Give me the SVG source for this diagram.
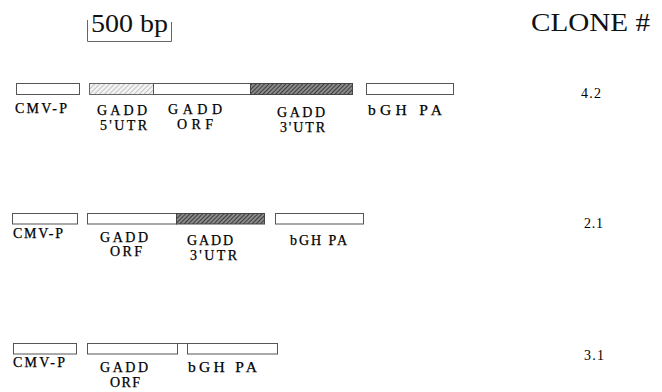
<svg xmlns="http://www.w3.org/2000/svg" width="662" height="392" viewBox="0 0 662 392">
  <defs>
    <pattern id="hatchLight" patternUnits="userSpaceOnUse" width="3.5" height="3.5" patternTransform="rotate(45)">
      <rect width="3.5" height="3.5" fill="#f2f2f2"/>
      <line x1="0" y1="0" x2="0" y2="3.5" stroke="#8a8a8a" stroke-width="0.9"/>
    </pattern>
    <pattern id="hatchDark" patternUnits="userSpaceOnUse" width="3" height="3" patternTransform="rotate(45)">
      <rect width="3" height="3" fill="#8a8a8a"/>
      <line x1="0" y1="0" x2="0" y2="3" stroke="#222" stroke-width="1.5"/>
    </pattern>
  </defs>
  <style>
    .box { fill: #fff; stroke: #555; stroke-width: 1; }
    .light { fill: url(#hatchLight); stroke: #666; stroke-width: 1; }
    .dark { fill: url(#hatchDark); stroke: #444; stroke-width: 1; }
    .lbl { font-family: "Liberation Serif", serif; font-size: 14px; fill: #000; stroke: #000; stroke-width: 0.25; }
    .wide { font-size: 15.5px; }
    .num { font-family: "Liberation Serif", serif; font-size: 14px; fill: #000; }
    .big { font-family: "Liberation Serif", serif; font-size: 26px; fill: #111; }
    .scale { fill: none; stroke: #666; stroke-width: 1; }
  </style>
  <rect width="662" height="392" fill="#fff"/>

  <!-- scale bar -->
  <g id="scale-bar">
    <path class="scale" d="M87.5,20 V41.5 H171.5 V22"/>
    <text class="big" x="91" y="32" textLength="77" lengthAdjust="spacingAndGlyphs">500 bp</text>
  </g>
  <g id="clone-header">
    <text class="big" x="531" y="31" textLength="119" lengthAdjust="spacingAndGlyphs">CLONE #</text>
  </g>

  <!-- construct 4.2 -->
  <g id="clone-4-2">
    <rect class="box" x="16.5" y="83.5" width="63" height="11"/>
    <rect class="light" x="89.5" y="83.5" width="64" height="11"/>
    <rect class="box" x="153.5" y="83.5" width="97" height="11"/>
    <rect class="dark" x="250.5" y="83.5" width="102" height="11"/>
    <rect class="box" x="366.5" y="83.5" width="87" height="11"/>
    <text class="lbl" x="15" y="113" textLength="52" lengthAdjust="spacing">CMV-P</text>
    <text class="lbl" x="97" y="115" textLength="50" lengthAdjust="spacing">GADD</text>
    <text class="lbl" x="100" y="130" textLength="47" lengthAdjust="spacing">5'UTR</text>
    <text class="lbl" x="168" y="114" textLength="54" lengthAdjust="spacing">GADD</text>
    <text class="lbl" x="177" y="129" textLength="36" lengthAdjust="spacing">ORF</text>
    <text class="lbl" x="277" y="117" textLength="48" lengthAdjust="spacing">GADD</text>
    <text class="lbl" x="280" y="132" textLength="45" lengthAdjust="spacing">3'UTR</text>
    <text class="lbl wide" x="368" y="115" textLength="74" lengthAdjust="spacing">bGH PA</text>
    <text class="num" x="581" y="98" textLength="20" lengthAdjust="spacing">4.2</text>
  </g>

  <!-- construct 2.1 -->
  <g id="clone-2-1">
    <rect class="box" x="12.5" y="213.5" width="65" height="10.5"/>
    <rect class="box" x="87.5" y="213.5" width="89" height="10.5"/>
    <rect class="dark" x="176.5" y="213.5" width="88" height="10.5"/>
    <rect class="box" x="275.5" y="213.5" width="88" height="10.5"/>
    <text class="lbl" x="13" y="238" textLength="50" lengthAdjust="spacing">CMV-P</text>
    <text class="lbl" x="100" y="242" textLength="48" lengthAdjust="spacing">GADD</text>
    <text class="lbl" x="110" y="256" textLength="32" lengthAdjust="spacing">ORF</text>
    <text class="lbl" x="187" y="245" textLength="46" lengthAdjust="spacing">GADD</text>
    <text class="lbl" x="190" y="260" textLength="47" lengthAdjust="spacing">3'UTR</text>
    <text class="lbl" x="290" y="245" textLength="57" lengthAdjust="spacing">bGH PA</text>
    <text class="num" x="584" y="228" textLength="19" lengthAdjust="spacing">2.1</text>
  </g>

  <!-- construct 3.1 -->
  <g id="clone-3-1">
    <rect class="box" x="13.5" y="343.5" width="63" height="10.5"/>
    <rect class="box" x="87.5" y="343.5" width="90" height="10.5"/>
    <path class="box" d="M177.5,343.5 H187.5"/>
    <rect class="box" x="187.5" y="343.5" width="90" height="10.5"/>
    <text class="lbl" x="13" y="367" textLength="52" lengthAdjust="spacing">CMV-P</text>
    <text class="lbl" x="100" y="372" textLength="48" lengthAdjust="spacing">GADD</text>
    <text class="lbl" x="110" y="387" textLength="30" lengthAdjust="spacing">ORF</text>
    <text class="lbl wide" x="188" y="372" textLength="69" lengthAdjust="spacing">bGH PA</text>
    <text class="num" x="584" y="360" textLength="20" lengthAdjust="spacing">3.1</text>
  </g>
</svg>
